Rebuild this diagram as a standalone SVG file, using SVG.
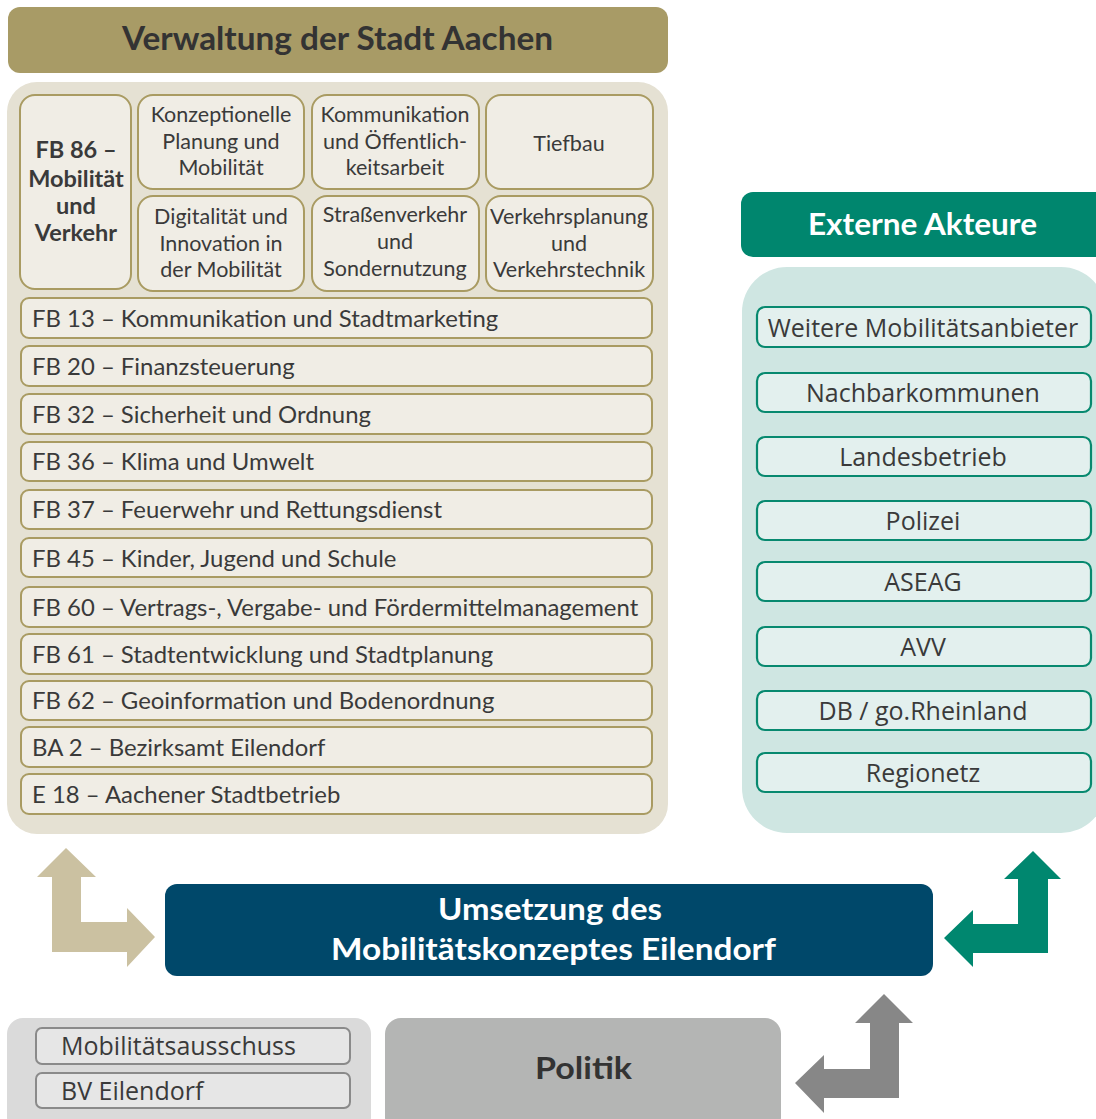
<svg xmlns="http://www.w3.org/2000/svg" width="1096" height="1119" viewBox="0 0 1096 1119">
<style>
.cond{font-family:Lato,"Liberation Sans",sans-serif;fill:#3a3a3a}
.wide{font-family:"Open Sans","Noto Sans",sans-serif;fill:#3a3a3a}
.bf{font-family:Lato,"Liberation Sans",sans-serif;font-weight:bold}
.ibox{fill:#f0ede5;stroke:#a99b62;stroke-width:2}
.tbox{fill:#e3f0ee;stroke:#07896f;stroke-width:2.2}
.gbox{fill:#e6e6e6;stroke:#8a8a8a;stroke-width:2}
.grid{font-size:21.5px;text-anchor:middle}
.row{font-size:23.9px}
.ext{font-size:25px;text-anchor:middle}
.fb86{font-size:23.5px;text-anchor:middle;fill:#3a3a3a}
</style>
<rect width="1096" height="1119" fill="#ffffff"/>

<g id="verwaltung-header">
<rect x="8" y="7" width="660" height="66" rx="12" fill="#a89b66"/>
<text class="bf" x="122" y="50" font-size="32" fill="#333333" textLength="431" lengthAdjust="spacingAndGlyphs">Verwaltung der Stadt Aachen</text>
</g>

<g id="verwaltung-container">
<rect x="7" y="82" width="661" height="752" rx="30" fill="#e5e1d3"/>
</g>

<g id="fb86">
<rect class="ibox" x="20" y="95" width="111" height="194" rx="15"/>
<text class="bf fb86" x="76" y="158">FB 86 –</text>
<text class="bf fb86" x="76" y="187">Mobilität</text>
<text class="bf fb86" x="76" y="214">und</text>
<text class="bf fb86" x="76" y="241">Verkehr</text>
</g>

<g id="konzeptionelle-planung">
<rect class="ibox" x="138" y="95" width="166" height="94" rx="15"/>
<text class="cond grid"><tspan x="221" y="122">Konzeptionelle</tspan><tspan x="221" y="149">Planung und</tspan><tspan x="221" y="175">Mobilität</tspan></text>
</g>
<g id="kommunikation-oeffentlichkeit">
<rect class="ibox" x="312" y="95" width="167" height="94" rx="15"/>
<text class="cond grid"><tspan x="395" y="122">Kommunikation</tspan><tspan x="395" y="149">und Öffentlich-</tspan><tspan x="395" y="175">keitsarbeit</tspan></text>
</g>
<g id="tiefbau">
<rect class="ibox" x="486" y="95" width="167" height="94" rx="15"/>
<text class="cond grid" x="569" y="151">Tiefbau</text>
</g>
<g id="digitalitaet">
<rect class="ibox" x="138" y="196" width="166" height="95" rx="15"/>
<text class="cond grid"><tspan x="221" y="224">Digitalität und</tspan><tspan x="221" y="251">Innovation in</tspan><tspan x="221" y="277">der Mobilität</tspan></text>
</g>
<g id="strassenverkehr">
<rect class="ibox" x="312" y="196" width="167" height="95" rx="15"/>
<text class="cond grid"><tspan x="395" y="222">Straßenverkehr</tspan><tspan x="395" y="249">und</tspan><tspan x="395" y="276">Sondernutzung</tspan></text>
</g>
<g id="verkehrsplanung">
<rect class="ibox" x="486" y="196" width="167" height="95" rx="15"/>
<text class="cond grid"><tspan x="569" y="224">Verkehrsplanung</tspan><tspan x="569" y="251">und</tspan><tspan x="569" y="277">Verkehrstechnik</tspan></text>
</g>

<g id="fb13"><rect class="ibox" x="21" y="298" width="631" height="40" rx="8"/><text class="cond row" x="32" y="327">FB 13 – Kommunikation und Stadtmarketing</text></g>
<g id="fb20"><rect class="ibox" x="21" y="346" width="631" height="40" rx="8"/><text class="cond row" x="32" y="375">FB 20 – Finanzsteuerung</text></g>
<g id="fb32"><rect class="ibox" x="21" y="394" width="631" height="40" rx="8"/><text class="cond row" x="32" y="423">FB 32 – Sicherheit und Ordnung</text></g>
<g id="fb36"><rect class="ibox" x="21" y="442" width="631" height="39" rx="8"/><text class="cond row" x="32" y="470">FB 36 – Klima und Umwelt</text></g>
<g id="fb37"><rect class="ibox" x="21" y="490" width="631" height="39" rx="8"/><text class="cond row" x="32" y="518">FB 37 – Feuerwehr und Rettungsdienst</text></g>
<g id="fb45"><rect class="ibox" x="21" y="538" width="631" height="39" rx="8"/><text class="cond row" x="32" y="567">FB 45 – Kinder, Jugend und Schule</text></g>
<g id="fb60"><rect class="ibox" x="21" y="587" width="631" height="40" rx="8"/><text class="cond row" x="32" y="616">FB 60 – Vertrags-, Vergabe- und Fördermittelmanagement</text></g>
<g id="fb61"><rect class="ibox" x="21" y="634" width="631" height="40" rx="8"/><text class="cond row" x="32" y="663">FB 61 – Stadtentwicklung und Stadtplanung</text></g>
<g id="fb62"><rect class="ibox" x="21" y="681" width="631" height="39" rx="8"/><text class="cond row" x="32" y="709">FB 62 – Geoinformation und Bodenordnung</text></g>
<g id="ba2"><rect class="ibox" x="21" y="727" width="631" height="40" rx="8"/><text class="cond row" x="32" y="756">BA 2 – Bezirksamt Eilendorf</text></g>
<g id="e18"><rect class="ibox" x="21" y="774" width="631" height="40" rx="8"/><text class="cond row" x="32" y="803">E 18 – Aachener Stadtbetrieb</text></g>

<g id="externe-header">
<rect x="741" y="192" width="370" height="65" rx="12" fill="#00866e"/>
<text class="bf" x="808" y="235" font-size="30" fill="#ffffff" textLength="229" lengthAdjust="spacingAndGlyphs">Externe Akteure</text>
</g>
<g id="externe-container">
<rect x="742" y="267" width="364" height="566" rx="45" fill="#cfe6e2"/>
</g>
<g id="weitere"><rect class="tbox" x="757" y="307" width="334" height="40" rx="8"/><text class="wide ext" x="923" y="337">Weitere Mobilitätsanbieter</text></g>
<g id="nachbarkommunen"><rect class="tbox" x="757" y="373" width="334" height="39" rx="8"/><text class="wide ext" x="923" y="402">Nachbarkommunen</text></g>
<g id="landesbetrieb"><rect class="tbox" x="757" y="437" width="334" height="39" rx="8"/><text class="wide ext" x="923" y="466">Landesbetrieb</text></g>
<g id="polizei"><rect class="tbox" x="757" y="501" width="334" height="39" rx="8"/><text class="wide ext" x="923" y="530">Polizei</text></g>
<g id="aseag"><rect class="tbox" x="757" y="562" width="334" height="39" rx="8"/><text class="wide ext" x="923" y="591">ASEAG</text></g>
<g id="avv"><rect class="tbox" x="757" y="627" width="334" height="39" rx="8"/><text class="wide ext" x="923" y="656">AVV</text></g>
<g id="db"><rect class="tbox" x="757" y="691" width="334" height="39" rx="8"/><text class="wide ext" x="923" y="720">DB / go.Rheinland</text></g>
<g id="regionetz"><rect class="tbox" x="757" y="753" width="334" height="39" rx="8"/><text class="wide ext" x="923" y="782">Regionetz</text></g>

<g id="umsetzung">
<rect x="165" y="884" width="768" height="92" rx="12" fill="#00486a"/>
<text class="bf" x="438" y="920" font-size="30" fill="#ffffff" textLength="224" lengthAdjust="spacingAndGlyphs">Umsetzung des</text>
<text class="bf" x="331" y="960" font-size="30" fill="#ffffff" textLength="445" lengthAdjust="spacingAndGlyphs">Mobilitätskonzeptes Eilendorf</text>
</g>

<g id="politik-gremien">
<rect x="7" y="1018" width="364" height="115" rx="16" fill="#dadada"/>
<rect class="gbox" x="36" y="1028" width="314" height="36" rx="6"/>
<text class="wide" x="61" y="1055" font-size="25">Mobilitätsausschuss</text>
<rect class="gbox" x="36" y="1073" width="314" height="35" rx="6"/>
<text class="wide" x="61" y="1100" font-size="25">BV Eilendorf</text>
</g>

<g id="politik">
<rect x="385" y="1018" width="396" height="115" rx="16" fill="#b4b5b4"/>
<text class="bf" x="535" y="1079" font-size="31" fill="#333333" textLength="97" lengthAdjust="spacingAndGlyphs">Politik</text>
</g>

<g id="connectors">
<polygon fill="#cbc1a1" points="66,848 96,877 81,877 81,922 127,922 127,908 155,937 127,967 127,952 52,952 52,877 37,877"/>
<polygon fill="#00876f" points="1033,851 1061,879 1048,879 1048,953 973,953 973,967 944,938 973,910 973,924 1018,924 1018,879 1004,879"/>
<polygon fill="#878787" points="884,994 913,1023 899,1023 899,1098 824,1098 824,1113 795,1083 824,1055 824,1069 870,1069 870,1023 855,1023"/>
</g>
</svg>
